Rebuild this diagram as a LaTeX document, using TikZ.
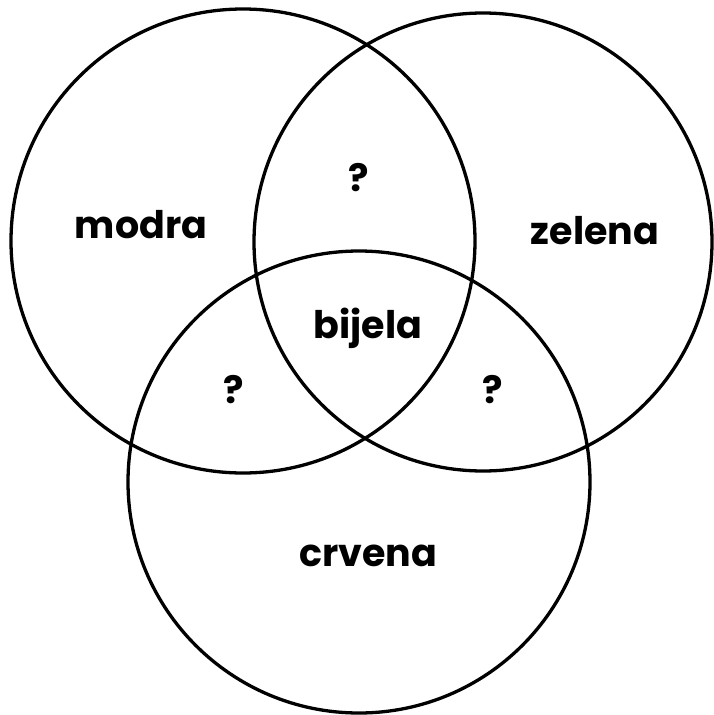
\documentclass[tikz,border=0pt]{standalone}
\usepackage{fontspec}
\setmainfont{Poppins}
\begin{document}
\begin{tikzpicture}[x=1pt,y=-1pt,
  setcircle/.style={circle,draw=black,line width=3.3pt,inner sep=0pt},
  lbl/.style={font=\fontsize{38}{40}\selectfont\bfseries,inner sep=0pt}]
\useasboundingbox[fill=white] (0,0) rectangle (713,715);
\node[setcircle,minimum size=464pt] (L) at (243,241) {};
\node[setcircle,minimum size=458pt] (R) at (483,242) {};
\node[setcircle,minimum size=462pt] (B) at (359,482) {};
\node[lbl] (modra) at (141,225) {modra};
\node[lbl] (zelena) at (595,231) {zelena};
\node[lbl] (q1) at (359,178) {?};
\node[lbl] (bijela) at (368,328) {bijela};
\node[lbl] (q2) at (234,390) {?};
\node[lbl] (q3) at (493,390) {?};
\node[lbl] (crvena) at (368,556) {crvena};
\end{tikzpicture}
\end{document}
